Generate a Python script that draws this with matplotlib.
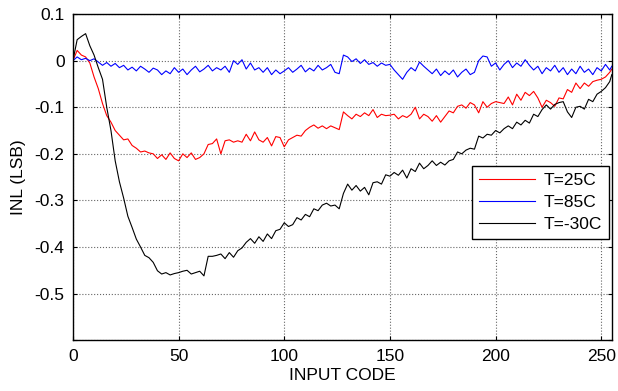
import numpy as np
import matplotlib
matplotlib.use("Agg")
import matplotlib.pyplot as plt

plt.rcParams["font.family"] = ["Liberation Sans", "DejaVu Sans"]
plt.rcParams["axes.unicode_minus"] = False

# input codes sampled every 2 LSB, plus the last code
codes = np.append(np.arange(0, 255, 2), 255)

inl_25c = [
    0.000, 0.022, 0.012, 0.008, -0.005, -0.035, -0.060, -0.092, -0.118, -0.132,
    -0.150, -0.160, -0.170, -0.168, -0.182, -0.188, -0.196, -0.194, -0.198, -0.200,
    -0.210, -0.202, -0.212, -0.198, -0.210, -0.215, -0.200, -0.208, -0.198, -0.212,
    -0.208, -0.200, -0.180, -0.178, -0.168, -0.200, -0.172, -0.170, -0.175, -0.172,
    -0.175, -0.158, -0.172, -0.153, -0.170, -0.175, -0.165, -0.183, -0.163, -0.165,
    -0.185, -0.170, -0.165, -0.160, -0.162, -0.150, -0.143, -0.138, -0.145, -0.140,
    -0.146, -0.140, -0.144, -0.148, -0.110, -0.118, -0.125, -0.115, -0.120, -0.112,
    -0.118, -0.105, -0.122, -0.115, -0.118, -0.117, -0.115, -0.125, -0.118, -0.122,
    -0.115, -0.100, -0.125, -0.115, -0.120, -0.130, -0.118, -0.132, -0.120, -0.108,
    -0.112, -0.098, -0.095, -0.102, -0.090, -0.095, -0.112, -0.088, -0.100, -0.092,
    -0.088, -0.090, -0.092, -0.078, -0.095, -0.072, -0.085, -0.068, -0.075, -0.066,
    -0.080, -0.100, -0.085, -0.090, -0.098, -0.080, -0.082, -0.062, -0.068, -0.048,
    -0.060, -0.048, -0.055, -0.045, -0.042, -0.040, -0.035, -0.025, -0.018,
]

inl_85c = [
    0.000, 0.008, 0.002, 0.005, 0.000, 0.004, -0.003, -0.010, -0.004, -0.012,
    -0.006, -0.015, -0.010, -0.020, -0.014, -0.022, -0.012, -0.018, -0.025, -0.016,
    -0.020, -0.030, -0.022, -0.028, -0.015, -0.025, -0.018, -0.030, -0.020, -0.012,
    -0.024, -0.018, -0.010, -0.022, -0.015, -0.020, -0.012, -0.025, 0.000, -0.008,
    0.002, -0.018, -0.005, -0.020, -0.015, -0.025, -0.015, -0.030, -0.020, -0.028,
    -0.022, -0.015, -0.025, -0.018, -0.010, -0.024, -0.016, -0.022, -0.010, -0.020,
    -0.015, -0.008, -0.025, -0.028, 0.012, 0.008, -0.002, 0.004, -0.006, 0.002,
    -0.008, -0.004, -0.012, -0.005, -0.010, -0.008, -0.020, -0.030, -0.040, -0.025,
    -0.015, -0.022, -0.003, -0.012, -0.020, -0.028, -0.018, -0.032, -0.022, -0.030,
    -0.020, -0.035, -0.025, -0.018, -0.030, -0.025, 0.000, 0.010, 0.008, -0.012,
    -0.005, -0.020, -0.008, 0.000, -0.015, -0.005, -0.012, 0.002, -0.010, -0.020,
    -0.012, -0.028, -0.015, -0.022, -0.010, -0.025, -0.015, -0.030, -0.018, -0.028,
    -0.012, -0.025, -0.018, -0.030, -0.015, -0.022, -0.008, -0.020, -0.012,
]

inl_m30c = [
    0.000, 0.045, 0.052, 0.058, 0.032, 0.012, -0.015, -0.040, -0.100, -0.150,
    -0.215, -0.260, -0.295, -0.334, -0.358, -0.383, -0.400, -0.418, -0.423, -0.433,
    -0.451, -0.458, -0.455, -0.460, -0.457, -0.455, -0.452, -0.450, -0.458, -0.455,
    -0.452, -0.462, -0.420, -0.420, -0.418, -0.415, -0.425, -0.412, -0.422, -0.408,
    -0.402, -0.390, -0.382, -0.392, -0.378, -0.388, -0.372, -0.382, -0.365, -0.362,
    -0.348, -0.356, -0.352, -0.337, -0.342, -0.330, -0.335, -0.318, -0.322, -0.310,
    -0.306, -0.312, -0.310, -0.318, -0.285, -0.265, -0.278, -0.268, -0.280, -0.272,
    -0.288, -0.262, -0.260, -0.265, -0.245, -0.248, -0.240, -0.246, -0.235, -0.252,
    -0.232, -0.238, -0.220, -0.232, -0.225, -0.215, -0.225, -0.218, -0.224, -0.215,
    -0.212, -0.196, -0.200, -0.192, -0.188, -0.190, -0.162, -0.166, -0.158, -0.160,
    -0.150, -0.155, -0.146, -0.140, -0.146, -0.132, -0.138, -0.128, -0.134, -0.115,
    -0.120, -0.105, -0.095, -0.104, -0.094, -0.090, -0.088, -0.110, -0.122, -0.100,
    -0.098, -0.104, -0.083, -0.088, -0.072, -0.066, -0.058, -0.045, -0.030,
]

labels = ["T=25C", "T=85C", "T=-30C"]
colors = ["r", "b", "k"]

fig = plt.figure(figsize=(6.18, 3.91), dpi=100)
ax = fig.add_axes([0.118, 0.130, 0.872, 0.834])

for vals, lab, col in zip([inl_25c, inl_85c, inl_m30c], labels, colors):
    ax.plot(codes, vals, color=col, linewidth=0.8, label=lab)

ax.set_xlim(0, 255)
ax.set_ylim(-0.6, 0.1)
ax.set_xticks([0, 50, 100, 150, 200, 250])
yt = [-0.6, -0.5, -0.4, -0.3, -0.2, -0.1, 0, 0.1]
ax.set_yticks(yt)
ax.set_yticklabels(["", "-0.5", "-0.4", "-0.3", "-0.2", "-0.1", "0", "0.1"])

ax.grid(True, color="0.4", linestyle=":", linewidth=0.8)
ax.tick_params(direction="in", length=3, top=True, right=True,
               labelsize=12.5, width=0.8, pad=6)
for sp in ax.spines.values():
    sp.set_linewidth(1.0)

ax.set_xlabel("INPUT CODE", fontsize=12.5, labelpad=3)
ax.set_ylabel("INL (LSB)", fontsize=12.5, labelpad=6)

leg = ax.legend(loc="upper right", bbox_to_anchor=(0.994, 0.534),
                fontsize=12.5, fancybox=False, framealpha=1,
                edgecolor="k", handlelength=3.2, borderpad=0.4,
                labelspacing=0.4, handletextpad=0.5, borderaxespad=0)
leg.get_frame().set_linewidth(1.0)

fig.savefig("out.png", dpi=100)
